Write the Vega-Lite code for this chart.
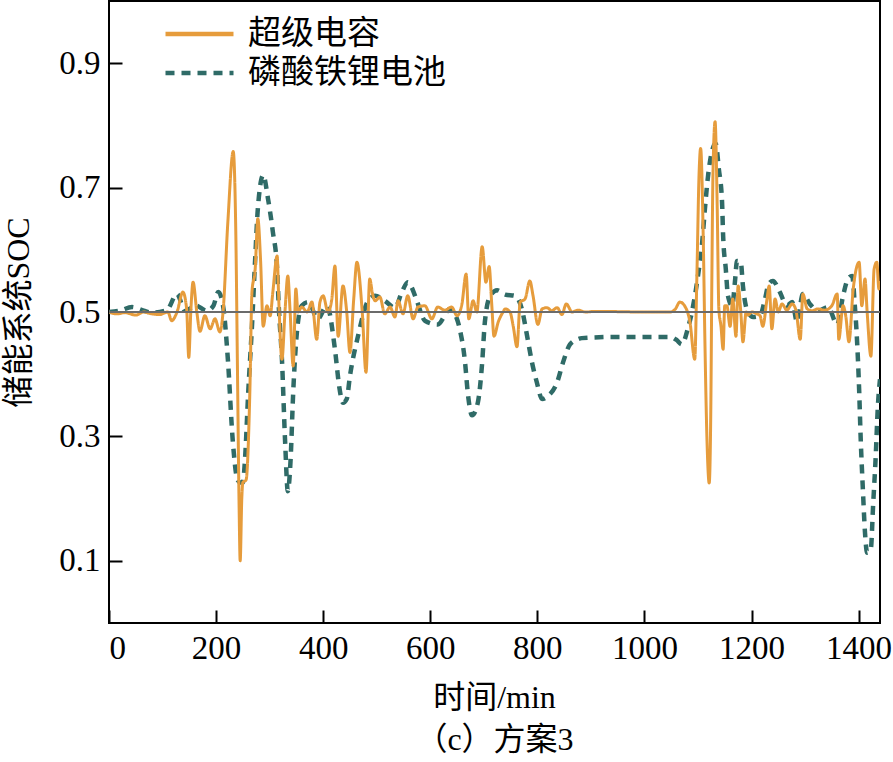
{
  "$schema": "https://vega.github.io/schema/vega-lite/v6.json",
  "autosize": {"type": "none"},
  "padding": {"left": 109, "top": 1, "right": 13, "bottom": 139},
  "width": 771,
  "height": 622,
  "background": "white",
  "title": {"text": "（c）方案3", "orient": "bottom", "anchor": "middle", "offset": 12, "font": "Liberation Serif, Noto Sans CJK SC", "fontSize": 32, "fontWeight": "normal", "color": "black"},
  "config": {
    "view": {"stroke": "black", "strokeWidth": 2},
    "axis": {"grid": false, "domain": false, "zindex": 2, "tickColor": "black", "tickWidth": 2, "tickSize": -13, "labelPadding": 22, "labelFont": "Liberation Serif", "labelFontSize": 33, "labelColor": "black", "titleFont": "Liberation Serif, Noto Sans CJK SC", "titleFontSize": 32, "titleFontWeight": "normal", "titleColor": "black"}
  },
  "datasets": {
    "bat": [
      {"t":0,"v":0.5},{"t":20,"v":0.502},{"t":43,"v":0.508},{"t":65,"v":0.502},{"t":80,"v":0.499},{"t":108,"v":0.503},{"t":127,"v":0.529},{"t":142,"v":0.502},{"t":150,"v":0.505},{"t":160,"v":0.511},{"t":183,"v":0.502},{"t":195,"v":0.51},{"t":204,"v":0.532},{"t":213,"v":0.51},{"t":222,"v":0.424},{"t":231,"v":0.295},{"t":240,"v":0.23},{"t":245,"v":0.226},{"t":250,"v":0.226},{"t":254,"v":0.263},{"t":260,"v":0.37},{"t":267,"v":0.477},{"t":273,"v":0.585},{"t":278,"v":0.666},{"t":288,"v":0.72},{"t":297,"v":0.682},{"t":306,"v":0.629},{"t":314,"v":0.569},{"t":317,"v":0.51},{"t":323,"v":0.424},{"t":329,"v":0.29},{"t":334,"v":0.212},{"t":339,"v":0.26},{"t":344,"v":0.37},{"t":351,"v":0.468},{"t":360,"v":0.51},{"t":372,"v":0.516},{"t":390,"v":0.489},{"t":407,"v":0.51},{"t":422,"v":0.44},{"t":430,"v":0.38},{"t":437,"v":0.354},{"t":444,"v":0.36},{"t":450,"v":0.397},{"t":465,"v":0.461},{"t":484,"v":0.518},{"t":497,"v":0.526},{"t":515,"v":0.518},{"t":534,"v":0.507},{"t":547,"v":0.532},{"t":558,"v":0.548},{"t":565,"v":0.54},{"t":575,"v":0.518},{"t":590,"v":0.486},{"t":614,"v":0.48},{"t":637,"v":0.505},{"t":646,"v":0.497},{"t":655,"v":0.473},{"t":665,"v":0.419},{"t":670,"v":0.371},{"t":678,"v":0.334},{"t":689,"v":0.355},{"t":697,"v":0.419},{"t":702,"v":0.484},{"t":712,"v":0.526},{"t":725,"v":0.535},{"t":740,"v":0.528},{"t":758,"v":0.526},{"t":771,"v":0.505},{"t":781,"v":0.461},{"t":790,"v":0.419},{"t":799,"v":0.387},{"t":809,"v":0.36},{"t":820,"v":0.365},{"t":837,"v":0.387},{"t":848,"v":0.419},{"t":861,"v":0.448},{"t":875,"v":0.456},{"t":883,"v":0.458},{"t":950,"v":0.46},{"t":1000,"v":0.46},{"t":1048,"v":0.46},{"t":1060,"v":0.455},{"t":1070,"v":0.448},{"t":1081,"v":0.473},{"t":1091,"v":0.51},{"t":1100,"v":0.558},{"t":1108,"v":0.613},{"t":1113,"v":0.666},{"t":1119,"v":0.72},{"t":1126,"v":0.758},{"t":1133,"v":0.771},{"t":1139,"v":0.73},{"t":1145,"v":0.677},{"t":1147,"v":0.623},{"t":1152,"v":0.569},{"t":1156,"v":0.526},{"t":1164,"v":0.51},{"t":1169,"v":0.548},{"t":1173,"v":0.582},{"t":1180,"v":0.58},{"t":1184,"v":0.542},{"t":1191,"v":0.505},{"t":1203,"v":0.492},{"t":1216,"v":0.494},{"t":1225,"v":0.52},{"t":1232,"v":0.545},{"t":1240,"v":0.55},{"t":1253,"v":0.532},{"t":1266,"v":0.51},{"t":1276,"v":0.516},{"t":1285,"v":0.484},{"t":1296,"v":0.529},{"t":1309,"v":0.513},{"t":1324,"v":0.502},{"t":1343,"v":0.508},{"t":1360,"v":0.48},{"t":1371,"v":0.526},{"t":1380,"v":0.553},{"t":1388,"v":0.558},{"t":1393,"v":0.51},{"t":1397,"v":0.456},{"t":1401,"v":0.376},{"t":1404,"v":0.295},{"t":1408,"v":0.215},{"t":1412,"v":0.145},{"t":1416,"v":0.113},{"t":1423,"v":0.12},{"t":1427,"v":0.187},{"t":1432,"v":0.268},{"t":1436,"v":0.348},{"t":1440,"v":0.392}
    ],
    "cap": [
      {"t":0,"v":0.5},{"t":15,"v":0.497},{"t":30,"v":0.499},{"t":50,"v":0.495},{"t":65,"v":0.5},{"t":80,"v":0.497},{"t":95,"v":0.496},{"t":110,"v":0.5},{"t":117,"v":0.486},{"t":127,"v":0.5},{"t":138,"v":0.532},{"t":145,"v":0.505},{"t":149,"v":0.427},{"t":153,"v":0.505},{"t":157,"v":0.548},{"t":164,"v":0.5},{"t":170,"v":0.469},{"t":179,"v":0.494},{"t":189,"v":0.473},{"t":198,"v":0.489},{"t":207,"v":0.468},{"t":213,"v":0.5},{"t":222,"v":0.645},{"t":232,"v":0.758},{"t":237,"v":0.618},{"t":240,"v":0.403},{"t":243,"v":0.187},{"t":245,"v":0.1},{"t":248,"v":0.2},{"t":250,"v":0.226},{"t":256,"v":0.23},{"t":263,"v":0.37},{"t":267,"v":0.532},{"t":273,"v":0.569},{"t":278,"v":0.65},{"t":283,"v":0.585},{"t":288,"v":0.477},{"t":295,"v":0.51},{"t":301,"v":0.494},{"t":306,"v":0.532},{"t":314,"v":0.59},{"t":317,"v":0.521},{"t":323,"v":0.424},{"t":329,"v":0.505},{"t":334,"v":0.558},{"t":338,"v":0.505},{"t":344,"v":0.413},{"t":349,"v":0.537},{"t":353,"v":0.5},{"t":360,"v":0.508},{"t":370,"v":0.5},{"t":379,"v":0.516},{"t":388,"v":0.456},{"t":394,"v":0.516},{"t":400,"v":0.526},{"t":409,"v":0.5},{"t":416,"v":0.52},{"t":422,"v":0.574},{"t":428,"v":0.461},{"t":437,"v":0.542},{"t":444,"v":0.5},{"t":450,"v":0.435},{"t":457,"v":0.52},{"t":463,"v":0.58},{"t":473,"v":0.5},{"t":480,"v":0.403},{"t":487,"v":0.553},{"t":492,"v":0.53},{"t":497,"v":0.518},{"t":506,"v":0.524},{"t":515,"v":0.497},{"t":525,"v":0.508},{"t":534,"v":0.492},{"t":540,"v":0.518},{"t":549,"v":0.497},{"t":558,"v":0.526},{"t":568,"v":0.489},{"t":577,"v":0.508},{"t":590,"v":0.51},{"t":603,"v":0.489},{"t":614,"v":0.508},{"t":627,"v":0.503},{"t":640,"v":0.508},{"t":650,"v":0.494},{"t":659,"v":0.512},{"t":667,"v":0.561},{"t":672,"v":0.489},{"t":680,"v":0.518},{"t":687,"v":0.5},{"t":697,"v":0.605},{"t":704,"v":0.548},{"t":710,"v":0.573},{"t":715,"v":0.51},{"t":719,"v":0.461},{"t":727,"v":0.484},{"t":736,"v":0.5},{"t":740,"v":0.505},{"t":749,"v":0.5},{"t":755,"v":0.477},{"t":762,"v":0.444},{"t":768,"v":0.516},{"t":777,"v":0.521},{"t":786,"v":0.55},{"t":792,"v":0.526},{"t":801,"v":0.48},{"t":809,"v":0.505},{"t":818,"v":0.507},{"t":827,"v":0.502},{"t":837,"v":0.507},{"t":846,"v":0.496},{"t":854,"v":0.513},{"t":865,"v":0.5},{"t":876,"v":0.503},{"t":890,"v":0.5},{"t":908,"v":0.501},{"t":1000,"v":0.5},{"t":1048,"v":0.5},{"t":1058,"v":0.505},{"t":1066,"v":0.516},{"t":1075,"v":0.51},{"t":1085,"v":0.484},{"t":1094,"v":0.424},{"t":1098,"v":0.558},{"t":1102,"v":0.72},{"t":1105,"v":0.763},{"t":1110,"v":0.613},{"t":1113,"v":0.452},{"t":1117,"v":0.29},{"t":1121,"v":0.225},{"t":1124,"v":0.344},{"t":1126,"v":0.558},{"t":1128,"v":0.72},{"t":1132,"v":0.806},{"t":1136,"v":0.666},{"t":1139,"v":0.505},{"t":1143,"v":0.477},{"t":1147,"v":0.44},{"t":1150,"v":0.51},{"t":1154,"v":0.51},{"t":1160,"v":0.477},{"t":1165,"v":0.521},{"t":1171,"v":0.461},{"t":1175,"v":0.542},{"t":1180,"v":0.5},{"t":1184,"v":0.452},{"t":1190,"v":0.5},{"t":1193,"v":0.495},{"t":1201,"v":0.5},{"t":1210,"v":0.497},{"t":1216,"v":0.494},{"t":1221,"v":0.477},{"t":1229,"v":0.521},{"t":1233,"v":0.542},{"t":1238,"v":0.473},{"t":1244,"v":0.521},{"t":1250,"v":0.5},{"t":1257,"v":0.513},{"t":1266,"v":0.503},{"t":1276,"v":0.513},{"t":1283,"v":0.503},{"t":1291,"v":0.456},{"t":1296,"v":0.529},{"t":1304,"v":0.505},{"t":1313,"v":0.502},{"t":1324,"v":0.505},{"t":1337,"v":0.503},{"t":1350,"v":0.51},{"t":1360,"v":0.529},{"t":1363,"v":0.456},{"t":1371,"v":0.51},{"t":1376,"v":0.494},{"t":1382,"v":0.452},{"t":1390,"v":0.537},{"t":1397,"v":0.574},{"t":1401,"v":0.58},{"t":1406,"v":0.51},{"t":1412,"v":0.553},{"t":1416,"v":0.5},{"t":1423,"v":0.429},{"t":1429,"v":0.569},{"t":1434,"v":0.58},{"t":1438,"v":0.537},{"t":1440,"v":0.55}
    ]
  },
  "layer": [
    {
      "data": {"name": "bat"},
      "transform": [{"calculate": "'磷酸铁锂电池'", "as": "s"}],
      "mark": {"type": "line", "strokeWidth": 4.5, "strokeCap": "butt", "interpolate": "monotone", "clip": true},
      "encoding": {
        "x": {"field": "t", "type": "quantitative", "scale": {"domain": [0, 1440], "nice": false, "zero": false}, "axis": {"values": [0,200,400,600,800,1000,1200,1400], "format": "d", "title": "时间/min", "titleX": 385, "titleY": 74, "titleBaseline": "middle", "titleAlign": "center"}},
        "y": {"field": "v", "type": "quantitative", "scale": {"domain": [0, 1], "nice": false}, "axis": {"values": [0.1,0.3,0.5,0.7,0.9], "format": ".1f", "title": "储能系统SOC", "titleX": -91, "titleY": 311, "titleBaseline": "middle", "titleAlign": "center", "titleAngle": -90}},
        "color": {"field": "s", "type": "nominal", "scale": {"domain": ["超级电容", "磷酸铁锂电池"], "range": ["#E69C3C", "#2F6B67"]}, "legend": {"title": null, "orient": "none", "legendX": 54, "legendY": 18, "symbolType": "stroke", "symbolSize": 4624, "symbolStrokeWidth": 4.5, "labelFont": "Liberation Serif, Noto Sans CJK SC", "labelFontSize": 33, "labelColor": "black", "labelOffset": 12, "labelLimit": 400, "clipHeight": 30, "rowPadding": 6, "padding": 0}},
        "strokeDash": {"field": "s", "type": "nominal", "scale": {"domain": ["超级电容", "磷酸铁锂电池"], "range": [[1, 0], [9, 7]]}, "legend": {"title": null, "orient": "none", "legendX": 54, "legendY": 18, "symbolType": "stroke", "symbolSize": 4624, "symbolStrokeWidth": 4.5, "labelFont": "Liberation Serif, Noto Sans CJK SC", "labelFontSize": 33, "labelColor": "black", "labelOffset": 12, "labelLimit": 400, "clipHeight": 30, "rowPadding": 6, "padding": 0}}
      }
    },
    {
      "data": {"name": "cap"},
      "transform": [{"calculate": "'超级电容'", "as": "s"}],
      "mark": {"type": "line", "strokeWidth": 3, "interpolate": "monotone", "clip": true},
      "encoding": {
        "x": {"field": "t", "type": "quantitative"},
        "y": {"field": "v", "type": "quantitative"},
        "color": {"field": "s", "type": "nominal"},
        "strokeDash": {"field": "s", "type": "nominal"}
      }
    },
    {
      "data": {"values": [{"level": 0.5}]},
      "mark": {"type": "rule", "color": "#6b6b6b", "strokeWidth": 2},
      "encoding": {"y": {"field": "level", "type": "quantitative"}}
    }
  ]
}
